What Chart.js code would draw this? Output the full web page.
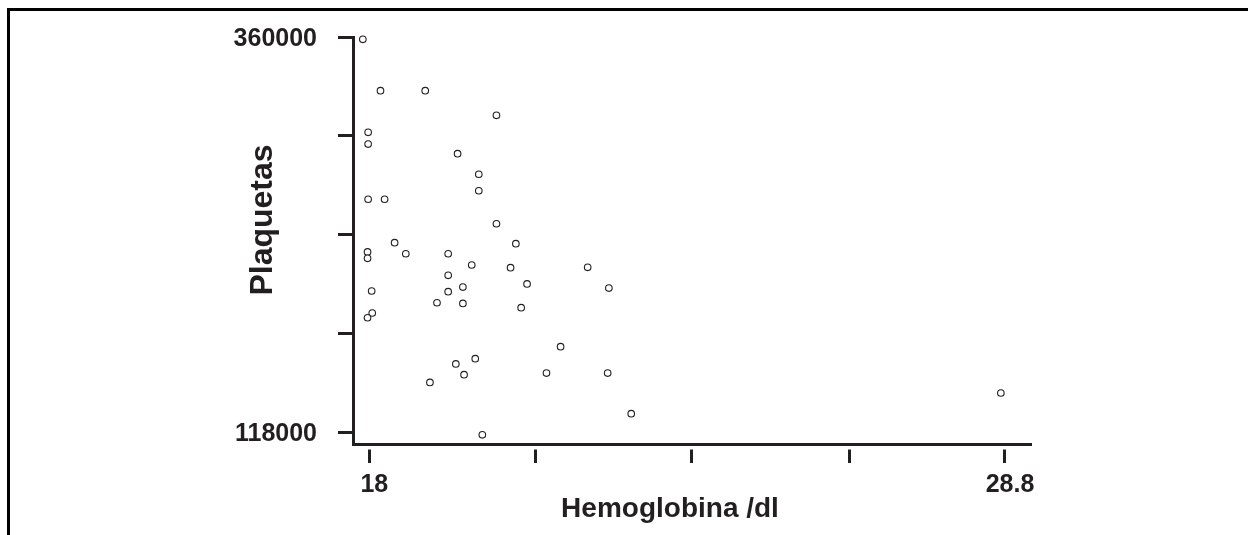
<!DOCTYPE html>
<html lang="es">
  <head>
    <meta charset="UTF-8" />
    <title>Plaquetas vs Hemoglobina</title>
    <script src="https://cdn.jsdelivr.net/npm/chart.js"></script>
    <style>
      body {
        margin: 0;
        background: #ffffff;
        font-family: "Liberation Sans", Arial, sans-serif;
      }
      .frame {
        position: absolute;
        left: 7px;
        top: 8px;
        right: 0;
        bottom: 0;
        border-top: 3px solid #000;
        border-left: 3px solid #000;
      }
      #scatter {
        position: absolute;
        left: 0;
        top: 0;
      }
    </style>
  </head>
  <body>
    <div class="frame"></div>
    <canvas id="scatter" width="1248" height="535"></canvas>

    <script>
      // Hemoglobina values (x)
      var hemoglobina = [
        17.89, 18.19, 18.95, 20.16, 17.98, 17.98, 19.5, 19.86, 19.86, 17.98,
        18.26, 20.16, 18.43, 20.49, 17.97, 17.97, 18.62, 19.34, 19.74, 20.4,
        21.71, 19.34, 20.68, 22.07, 18.04, 19.59, 19.34, 19.15, 19.59, 20.58,
        18.05, 17.97, 21.25, 19.8, 19.47, 19.61, 21.01, 22.05, 19.03, 22.45,
        19.92, 28.73,
      ];

      // Plaquetas values (y)
      var plaquetas = [
        358600, 327100, 327100, 312000, 301600, 294400, 288500, 275900, 265800,
        260600, 260600, 245600, 234000, 233400, 228300, 224400, 227200, 227200,
        220300, 218700, 218900, 214000, 208700, 206200, 204400, 206800, 204000,
        197200, 196800, 194200, 190900, 188000, 170300, 162900, 159700, 153100,
        154100, 154100, 148400, 129200, 116300, 141900,
      ];

      // tick positions, only the ends get a label
      var xTicks = [18, 20.83, 23.48, 26.15, 28.8];
      var yTicks = [118000, 178500, 239000, 299500, 360000];

      var points = hemoglobina.map(function (h, i) {
        return { x: h, y: plaquetas[i] };
      });

      var ink = "#231f20";

      // axis titles, placed like the original
      var axisTitles = {
        id: "axisTitles",
        afterDraw: function (chart) {
          var ctx = chart.ctx;
          ctx.save();
          ctx.fillStyle = ink;
          ctx.textAlign = "center";
          ctx.textBaseline = "alphabetic";
          ctx.font = "bold 28px 'Liberation Sans', Arial";
          ctx.fillText("Hemoglobina /dl", 670, 517);
          ctx.translate(272, 220);
          ctx.rotate(-Math.PI / 2);
          ctx.font = "bold 32px 'Liberation Sans', Arial";
          ctx.fillText("Plaquetas", 0, 0);
          ctx.restore();
        },
      };

      new Chart(document.getElementById("scatter").getContext("2d"), {
        type: "scatter",
        data: {
          datasets: [
            {
              data: points,
              pointRadius: 3.3,
              pointHoverRadius: 3.3,
              borderWidth: 1.1,
              borderColor: ink,
              backgroundColor: "#ffffff",
              clip: false,
            },
          ],
        },
        options: {
          responsive: false,
          animation: false,
          layout: { padding: { top: 37, right: 218, left: 0, bottom: 0 } },
          plugins: {
            legend: { display: false },
            tooltip: { enabled: false },
          },
          scales: {
            x: {
              type: "linear",
              min: 17.723,
              max: 29.225,
              afterBuildTicks: function (scale) {
                scale.ticks = xTicks.map(function (v) {
                  return { value: v };
                });
              },
              afterFit: function (scale) {
                scale.height = 91;
              },
              grid: {
                drawOnChartArea: false,
                tickLength: 19,
                lineWidth: 3,
                color: ink,
                tickBorderDash: [14, 3.5],
                tickBorderDashOffset: 14,
              },
              border: { display: true, width: 3, color: ink },
              ticks: {
                color: ink,
                padding: 7,
                labelOffset: 5,
                maxRotation: 0,
                autoSkip: false,
                font: { family: "'Liberation Sans', Arial", size: 25, weight: "bold" },
                callback: function (value, index) {
                  return index === 0 || index === xTicks.length - 1 ? String(value) : "";
                },
              },
            },
            y: {
              type: "linear",
              min: 110650,
              max: 360000,
              afterBuildTicks: function (scale) {
                scale.ticks = yTicks.map(function (v) {
                  return { value: v };
                });
              },
              afterFit: function (scale) {
                scale.width = 353;
              },
              grid: {
                drawOnChartArea: false,
                tickLength: 15,
                lineWidth: 3,
                color: ink,
              },
              border: { display: true, width: 3, color: ink },
              ticks: {
                color: ink,
                padding: 21,
                labelOffset: 2.5,
                autoSkip: false,
                font: { family: "'Liberation Sans', Arial", size: 25, weight: "bold" },
                callback: function (value, index) {
                  return index === 0 || index === yTicks.length - 1 ? String(value) : "";
                },
              },
            },
          },
        },
        plugins: [axisTitles],
      });
    </script>
  </body>
</html>
